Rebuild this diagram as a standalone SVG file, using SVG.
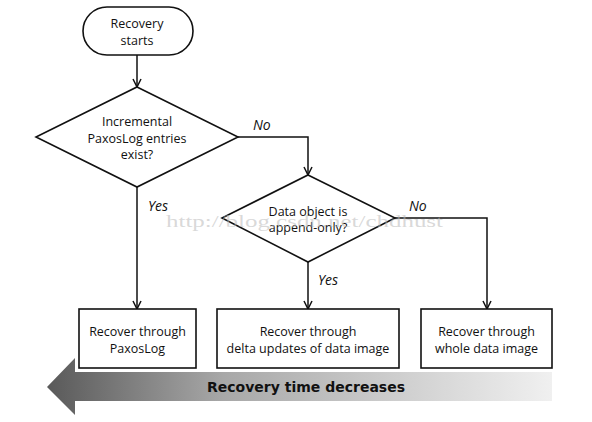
<svg xmlns="http://www.w3.org/2000/svg" width="592" height="422" viewBox="0 0 592 422">
<style>
.n{fill:#fff;stroke:#111;stroke-width:1.6}
.t{font-family:"Open Sans","Liberation Sans",sans-serif;font-size:12.5px;fill:#111;text-anchor:middle}
.l{font-family:"Open Sans","Liberation Sans",sans-serif;font-size:14px;font-style:italic;fill:#111}
.c{fill:none;stroke:#111;stroke-width:1.5}
</style>
<defs>
<marker id="ah" viewBox="0 0 10 10" refX="9" refY="5" markerWidth="10" markerHeight="10" markerUnits="userSpaceOnUse" orient="auto">
<polyline points="1,1 9,5 1,9" fill="none" stroke="#111" stroke-width="1.5"/>
</marker>
<linearGradient id="g" gradientUnits="userSpaceOnUse" x1="47" y1="0" x2="552" y2="0">
<stop offset="0" stop-color="#595959"/>
<stop offset="0.35" stop-color="#a8a8a8"/>
<stop offset="1" stop-color="#f0f0f0"/>
</linearGradient>
</defs>
<g id="time-arrow">
<polygon points="47,387 75,358 75,372 552,372 552,401 75,401 75,415" fill="url(#g)"/>
<text x="306" y="392" font-family="'DejaVu Sans','Liberation Sans',sans-serif" font-size="14" font-weight="bold" fill="#111" text-anchor="middle" textLength="198" lengthAdjust="spacingAndGlyphs">Recovery time decreases</text>
</g>
<g id="connectors">
<line class="c" x1="137" y1="55" x2="137" y2="87" marker-end="url(#ah)"/>
<polyline class="c" points="238,137 308,137 308,175" marker-end="url(#ah)"/>
<line class="c" x1="137" y1="187" x2="137" y2="309" marker-end="url(#ah)"/>
<line class="c" x1="308" y1="262" x2="308" y2="309" marker-end="url(#ah)"/>
<polyline class="c" points="395,218 487,218 487,309" marker-end="url(#ah)"/>
<text class="l" x="253" y="130">No</text>
<text class="l" x="148" y="211">Yes</text>
<text class="l" x="409" y="211">No</text>
<text class="l" x="318" y="285">Yes</text>
</g>
<g id="start">
<rect class="n" x="83" y="7" width="110" height="48" rx="24" ry="24"/>
<text class="t" x="137" y="28">Recovery</text>
<text class="t" x="137" y="45">starts</text>
</g>
<g id="decision1">
<polygon class="n" points="137,87 238,137 137,187 36,137"/>
<text class="t" x="137" y="126">Incremental</text>
<text class="t" x="137" y="142.5">PaxosLog entries</text>
<text class="t" x="137" y="159">exist?</text>
</g>
<g id="decision2">
<polygon class="n" points="308,175 395,218 308,262 222,218"/>
<text class="t" x="308" y="216">Data object is</text>
<text class="t" x="308" y="232">append-only?</text>
</g>
<g id="box1">
<rect class="n" x="79" y="309" width="117" height="59"/>
<text class="t" x="137.5" y="336">Recover through</text>
<text class="t" x="137.5" y="353">PaxosLog</text>
</g>
<g id="box2">
<rect class="n" x="217" y="309" width="182" height="59"/>
<text class="t" x="308" y="336">Recover through</text>
<text class="t" x="308" y="353">delta updates of data image</text>
</g>
<g id="box3">
<rect class="n" x="421" y="309" width="131" height="59"/>
<text class="t" x="486.5" y="336">Recover through</text>
<text class="t" x="486.5" y="353">whole data image</text>
</g>
<text id="watermark" x="166" y="227" font-family="'Liberation Serif',serif" font-size="17" fill="#b8b8b8" fill-opacity="0.55" textLength="277" lengthAdjust="spacingAndGlyphs">http://blog.csdn.net/chdhust</text>
</svg>
